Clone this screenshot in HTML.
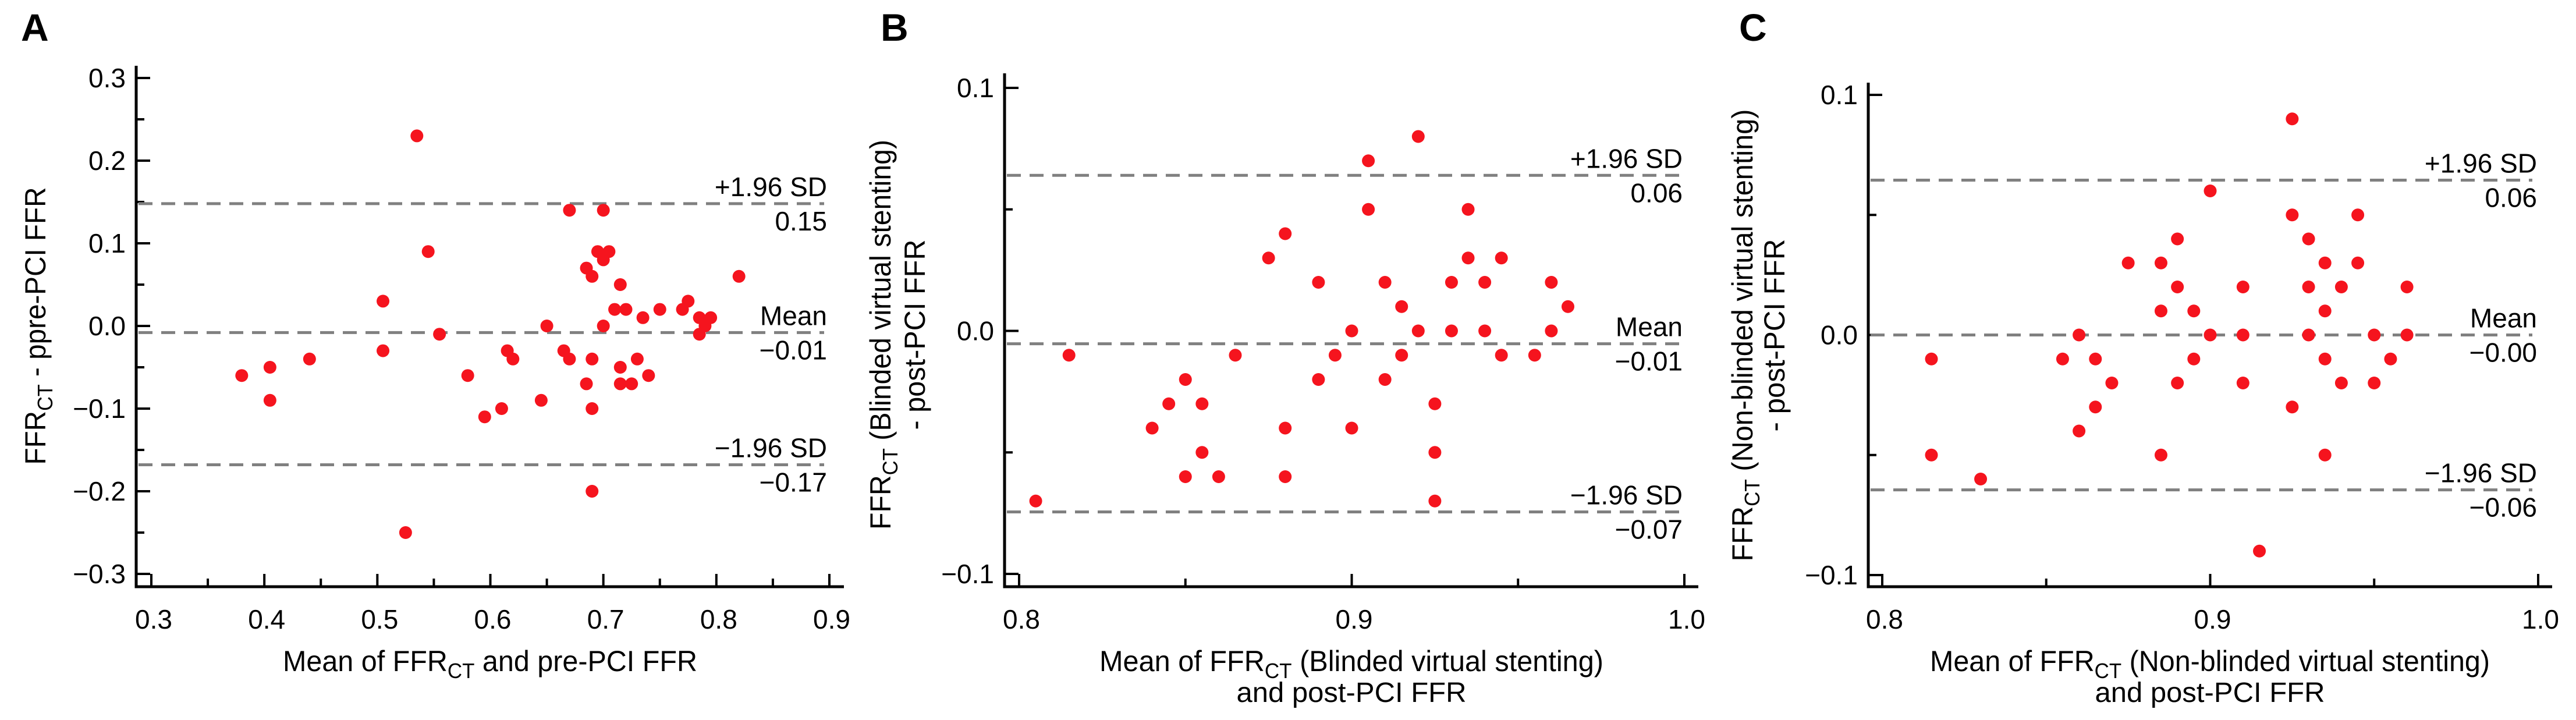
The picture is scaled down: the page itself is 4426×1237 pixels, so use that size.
<!DOCTYPE html>
<html><head><meta charset="utf-8">
<style>
html,body{margin:0;padding:0;background:#fff;}
svg{display:block;}
text{font-family:"Liberation Sans Narrow","Liberation Sans",sans-serif;fill:#000;}
</style></head>
<body>
<svg id="fig" width="4426" height="1237" viewBox="0 0 4426 1237" xmlns="http://www.w3.org/2000/svg"></svg>
<script>
// Panel A data
const aX = [0.535,0.545,0.505,0.505,0.555,0.38,0.405,0.405,0.44,0.525,0.58,0.595,0.61,0.615,0.62,0.645,0.65,0.665,0.67,0.67,0.685,0.685,0.69,0.69,0.69,0.69,0.695,0.70,0.70,0.70,0.705,0.71,0.715,0.715,0.715,0.72,0.725,0.73,0.735,0.74,0.75,0.77,0.775,0.785,0.785,0.79,0.795,0.82];
const aY = [0.23,0.09,0.03,-0.03,-0.01,-0.06,-0.05,-0.09,-0.04,-0.25,-0.06,-0.11,-0.10,-0.03,-0.04,-0.09,0.00,-0.03,-0.04,0.14,0.07,-0.07,0.06,-0.04,-0.10,-0.20,0.09,0.14,0.08,0.00,0.09,0.02,0.05,-0.05,-0.07,0.02,-0.07,-0.04,0.01,-0.06,0.02,0.02,0.03,0.01,-0.01,0.00,0.01,0.06];
const aLimits = [0.148,-0.008,-0.168];
const aLimitLabels = ["0.15","\u22120.01","\u22120.17"];
const aXTicks = [0.3,0.4,0.5,0.6,0.7,0.8,0.9];
const aYTicks = [0.3,0.2,0.1,0.0,-0.1,-0.2,-0.3];
const aXTickLabels = ["0.3","0.4","0.5","0.6","0.7","0.8","0.9"];
const aYTickLabels = ["0.3","0.2","0.1","0.0","\u22120.1","\u22120.2","\u22120.3"];

// Panel B data
const bX = [0.805,0.815,0.84,0.845,0.85,0.85,0.855,0.855,0.86,0.865,0.875,0.88,0.88,0.88,0.89,0.89,0.895,0.90,0.90,0.905,0.905,0.91,0.91,0.915,0.915,0.92,0.92,0.925,0.925,0.925,0.93,0.93,0.935,0.935,0.94,0.94,0.945,0.945,0.955,0.96,0.96,0.965];
const bY = [-0.07,-0.01,-0.04,-0.03,-0.02,-0.06,-0.03,-0.05,-0.06,-0.01,0.03,0.04,-0.04,-0.06,0.02,-0.02,-0.01,0.00,-0.04,0.07,0.05,0.02,-0.02,0.01,-0.01,0.08,0.00,-0.03,-0.05,-0.07,0.02,0.00,0.05,0.03,0.02,0.00,0.03,-0.01,-0.01,0.02,0.00,0.01];
const bLimits = [0.064,-0.0053,-0.0745];
const bLimitLabels = ["0.06","\u22120.01","\u22120.07"];
const bXTicks = [0.8,0.9,1.0];
const bYTicks = [0.1,0.0,-0.1];
const bXTickLabels = ["0.8","0.9","1.0"];
const bYTickLabels = ["0.1","0.0","\u22120.1"];

// Panel C data
const cX = [0.815,0.815,0.83,0.855,0.86,0.86,0.865,0.865,0.87,0.875,0.885,0.885,0.885,0.89,0.89,0.89,0.895,0.895,0.90,0.90,0.91,0.91,0.91,0.915,0.925,0.925,0.925,0.93,0.93,0.93,0.935,0.935,0.935,0.935,0.94,0.94,0.945,0.945,0.95,0.95,0.955,0.96,0.96];
const cY = [-0.01,-0.05,-0.06,-0.01,0.00,-0.04,-0.01,-0.03,-0.02,0.03,0.03,0.01,-0.05,0.04,0.02,-0.02,0.01,-0.01,0.06,0.00,0.02,0.00,-0.02,-0.09,0.09,0.05,-0.03,0.04,0.02,0.00,0.03,0.01,-0.01,-0.05,0.02,-0.02,0.05,0.03,0.00,-0.02,-0.01,0.02,0.00];
const cLimits = [0.0645,0.0,-0.0645];
const cLimitLabels = ["0.06","\u22120.00","\u22120.06"];
const cXTicks = [0.8,0.9,1.0];
const cYTicks = [0.1,0.0,-0.1];
const cXTickLabels = ["0.8","0.9","1.0"];
const cYTickLabels = ["0.1","0.0","\u22120.1"];

const NS = "http://www.w3.org/2000/svg";
const svg = document.getElementById('fig');
function mk(tag, attrs, parent){
  const e = document.createElementNS(NS, tag);
  for (const k in attrs) e.setAttribute(k, attrs[k]);
  (parent||svg).appendChild(e);
  return e;
}
const LA = 'spacingAndGlyphs';

function panel(cfg){
  const g = mk('g', {});
  
  
  const sx = v => cfg.x0px + (v - cfg.x0) / (cfg.x1 - cfg.x0) * (cfg.x1px - cfg.x0px);
  const sy = v => cfg.y0px + (v - cfg.y0) / (cfg.y1 - cfg.y0) * (cfg.y1px - cfg.y0px);

  const L = mk('text', {x: cfg.letterX, y: 70, 'font-size': 66, 'font-weight': 'bold', style:'font-family:"Liberation Sans",sans-serif'}, g);
  L.textContent = cfg.letter;
  
  

  const ax = mk('path', {d: `M${cfg.axisX},${cfg.axisTop} L${cfg.axisX},${cfg.axisY} L${cfg.axisRight},${cfg.axisY}`, stroke:'#000', 'stroke-width':5, fill:'none'}, g);
  
  

  cfg.yTicks.forEach((v,i)=>{
    const y = sy(v);
    const t = mk('line', {x1: cfg.axisX, x2: cfg.axisX+24, y1: y, y2: y, stroke:'#000', 'stroke-width':4}, g);
    
    
    const lb = mk('text', {x: cfg.axisX-18, y: y+16, 'font-size': 46, 'text-anchor':'end'}, g);
    lb.textContent = cfg.yTickLabels[i];
    
    
    if (i < cfg.yTicks.length-1){
      const m = (v + cfg.yTicks[i+1]) / 2;
      const t2 = mk('line', {x1: cfg.axisX, x2: cfg.axisX+14, y1: sy(m), y2: sy(m), stroke:'#000', 'stroke-width':4}, g);
      
      
    }
  });
  cfg.xTicks.forEach((v,i)=>{
    const x = sx(v);
    const t = mk('line', {x1: x, x2: x, y1: cfg.axisY, y2: cfg.axisY-22, stroke:'#000', 'stroke-width':4}, g);
    
    
    const lb = mk('text', {x: x+4, y: cfg.axisY+72, 'font-size': 46, 'text-anchor':'middle'}, g);
    lb.textContent = cfg.xTickLabels[i];
    
    
    if (i < cfg.xTicks.length-1){
      const m = (v + cfg.xTicks[i+1]) / 2;
      const t2 = mk('line', {x1: sx(m), x2: sx(m), y1: cfg.axisY, y2: cfg.axisY-14, stroke:'#000', 'stroke-width':4}, g);
      
      
    }
  });

  const names = ['upper-limit-line','mean-line','lower-limit-line'];
  const heads = ['+1.96 SD','Mean','\u22121.96 SD'];
  cfg.limits.forEach((v,i)=>{
    const y = sy(v);
    const ln = mk('line', {x1: cfg.axisX+4, x2: cfg.lineEnd, y1: y, y2: y, stroke:'#808080', 'stroke-width':5, 'stroke-dasharray':'24 15'}, g);
    
    
    const h = mk('text', {x: cfg.labelRight, y: y-13, 'font-size': 46, 'text-anchor':'end'}, g);
    h.textContent = heads[i];
    
    
    const vl = mk('text', {x: cfg.labelRight, y: y+46, 'font-size': 46, 'text-anchor':'end'}, g);
    vl.textContent = cfg.limitLabels[i];
    
    
  });

  cfg.xs.forEach((xv,i)=>{
    const c = mk('ellipse', {cx: sx(xv), cy: sy(cfg.ys[i]), rx: 11, ry: 11, fill:'#f5141e'}, g);
    
    
  });

  const yt = mk('text', {transform:`translate(${cfg.yTitleX},${cfg.yTitleY}) rotate(-90)`, 'font-size': 50, 'text-anchor':'middle', textLength: cfg.yLen, lengthAdjust: LA}, g);
  
  
  yt.innerHTML = cfg.yTitle;
  if (cfg.yTitle2){
    const t2 = mk('text', {transform:`translate(${cfg.yTitle2X},${cfg.yTitleY}) rotate(-90)`, 'font-size':50, 'text-anchor':'middle', textLength: cfg.yLen2, lengthAdjust: LA}, g);
    t2.textContent = cfg.yTitle2;
    
    
  }

  const xt = mk('text', {x: cfg.xTitleX, y: 1153, 'font-size': 50, 'text-anchor':'middle', textLength: cfg.xLen, lengthAdjust: LA}, g);
  
  
  xt.innerHTML = cfg.xTitle;
  if (cfg.xTitle2){
    const x2 = mk('text', {x: cfg.xTitleX, y: 1206, 'font-size': 48, 'text-anchor':'middle', textLength: 395, lengthAdjust: LA}, g);
    x2.textContent = cfg.xTitle2;
    
    
  }
}

const sub = '<tspan font-size="36" dy="12">CT</tspan><tspan dy="-12">';

panel({name:'panel-a', letter:'A', letterX:36, xs:aX, ys:aY, limits:aLimits, limitLabels:aLimitLabels,
  xTicks:aXTicks, yTicks:aYTicks, xTickLabels:aXTickLabels, yTickLabels:aYTickLabels,
  x0:0.3, x1:0.9, x0px:260, x1px:1425, y0:0.3, y1:-0.3, y0px:134, y1px:986,
  axisX:234, axisTop:113, axisY:1008, axisRight:1450, lineEnd:1416, labelRight:1421,
  yTitleX:78, yTitleY:560, yLen:477,
  yTitle:'FFR'+sub+' - ppre-PCI FFR</tspan>',
  xTitleX:842, xLen:712, xTitle:'Mean of FFR'+sub+' and pre-PCI FFR</tspan>'});

panel({name:'panel-b', letter:'B', letterX:1513, xs:bX, ys:bY, limits:bLimits, limitLabels:bLimitLabels,
  xTicks:bXTicks, yTicks:bYTicks, xTickLabels:bXTickLabels, yTickLabels:bYTickLabels,
  x0:0.8, x1:1.0, x0px:1751, x1px:2894, y0:0.1, y1:-0.1, y0px:151, y1px:986,
  axisX:1726, axisTop:126, axisY:1008, axisRight:2918, lineEnd:2894, labelRight:2891,
  yTitleX:1530, yTitleY:575, yLen:670, yTitle2X:1589, yLen2:327,
  yTitle:'FFR'+sub+' (Blinded virtual stenting)</tspan>', yTitle2:'- post-PCI FFR',
  xTitleX:2322, xLen:866, xTitle:'Mean of FFR'+sub+' (Blinded virtual stenting)</tspan>', xTitle2:'and post-PCI FFR'});

panel({name:'panel-c', letter:'C', letterX:2988, xs:cX, ys:cY, limits:cLimits, limitLabels:cLimitLabels,
  xTicks:cXTicks, yTicks:cYTicks, xTickLabels:cXTickLabels, yTickLabels:cYTickLabels,
  x0:0.8, x1:1.0, x0px:3234, x1px:4361, y0:0.1, y1:-0.1, y0px:163, y1px:988,
  axisX:3210, axisTop:142, axisY:1008, axisRight:4385, lineEnd:4351, labelRight:4359,
  yTitleX:3011, yTitleY:576, yLen:777, yTitle2X:3066, yLen2:331,
  yTitle:'FFR'+sub+' (Non-blinded virtual stenting)</tspan>', yTitle2:'- post-PCI FFR',
  xTitleX:3797, xLen:962, xTitle:'Mean of FFR'+sub+' (Non-blinded virtual stenting)</tspan>', xTitle2:'and post-PCI FFR'});
</script>
</body></html>
